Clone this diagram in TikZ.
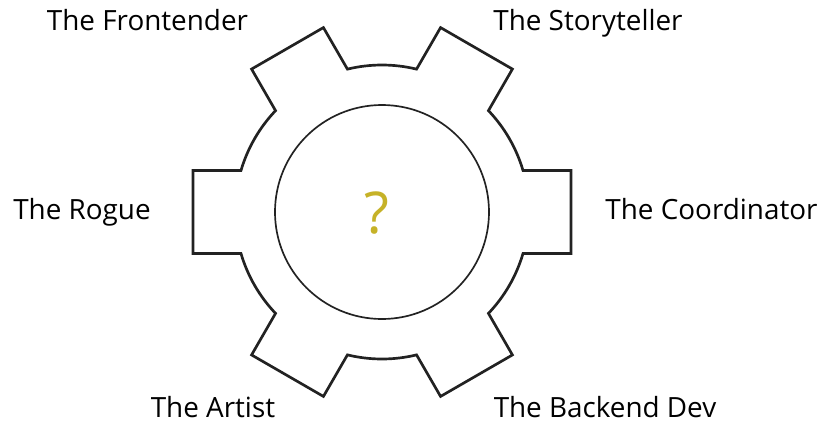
\documentclass[tikz,border=0pt]{standalone}
\usepackage{fontspec}
\setmainfont{Open Sans}
\definecolor{gearline}{RGB}{34,34,34}
\definecolor{quizgold}{RGB}{198,178,40}
\begin{document}
\begin{tikzpicture}[
  x=0.025cm, y=0.025cm,
  role/.style={anchor=base, inner sep=0pt, font=\fontsize{19.8}{23}\selectfont},
  gear/.style={draw=gearline, line width=1.9pt, line join=miter}
]
\useasboundingbox (-382,-211) rectangle (440,212);
% gear outline: six square teeth
\draw[gear] (-16.4:147)
  \foreach \a in {0,60,...,300} {
    -- (\a-12.38:193.5) -- (\a+12.38:193.5) -- (\a+16.4:147)
    arc[start angle=\a+16.4, end angle=\a+43.6, radius=147]
  } -- cycle;
\draw[gearline, line width=1.2pt] (0,0) circle[radius=107];
\node[anchor=base, inner sep=0pt, text=quizgold, font=\fontsize{41}{46}\selectfont] (quiz) at (-5.5,-21) {?};
\node[role] (frontender) at (-234.5,182) {The Frontender};
\node[role] (storyteller) at (206,182) {The Storyteller};
\node[role] (rogue) at (-300,-7) {The Rogue};
\node[role] (coordinator) at (329.5,-7) {The Coordinator};
\node[role] (artist) at (-169,-205) {The Artist};
\node[role] (backend) at (223,-205) {The Backend Dev};
\end{tikzpicture}
\end{document}
